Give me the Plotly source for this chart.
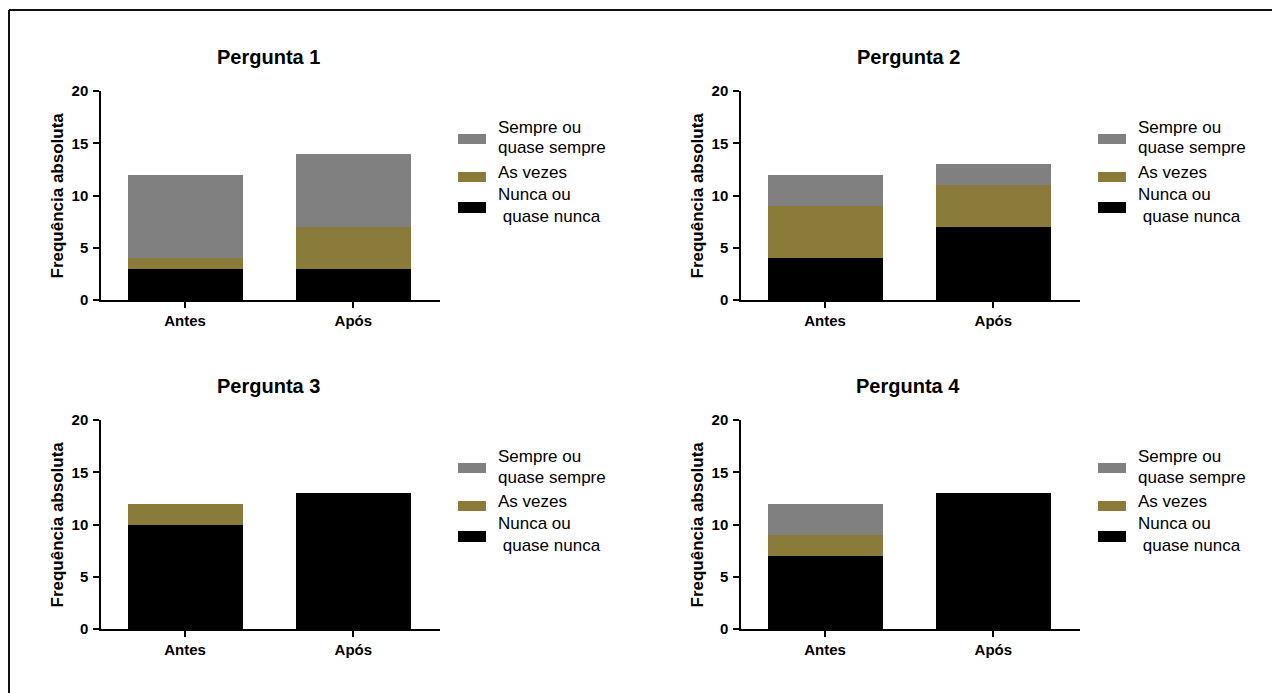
import plotly.graph_objects as go

W, H = 1280, 693
OFF = 8  # page body margin offset of the figure div

categories = ["Antes", "Após"]
titles = ["Pergunta 1", "Pergunta 2", "Pergunta 3", "Pergunta 4"]
series_names = ["Nunca ou quase nunca", "As vezes", "Sempre ou quase sempre"]
series_colors = ["#000000", "#8b7b3b", "#808080"]

# values per question: [Antes, Após]
nunca = [[3, 3], [4, 7], [10, 13], [7, 13]]
as_vezes = [[1, 4], [5, 4], [2, 0], [2, 0]]
sempre = [[8, 7], [3, 2], [0, 0], [3, 0]]

y_ticks = [0, 5, 10, 15, 20]
y_title = "Frequência absoluta"
legend_lines = [["Sempre ou", "quase sempre"], ["As vezes"], ["Nunca ou", "\u00a0quase nunca"]]
legend_colors = ["#808080", "#8b7b3b", "#000000"]

FONT = "Liberation Sans, Arial, sans-serif"


def X(p):
    return (p - OFF) / W


def Y(p):
    return 1 - (p - OFF) / H


# panel geometry in page pixels: (x_left, x_right, y_zero, y_top)
panels = [(101, 440, 300, 91), (741, 1080, 300, 91),
          (101, 440, 629, 420), (741, 1080, 629, 420)]

fig = go.Figure()
layout = dict(template="none", width=W, height=H, margin=dict(l=0, r=0, t=0, b=0, pad=0),
              paper_bgcolor="white", plot_bgcolor="white", showlegend=False,
              barmode="stack", bargap=0.315, font=dict(family=FONT, color="black"))
annotations = []
shapes = []

for i, (xl, xr, y0, y20) in enumerate(panels):
    n = "" if i == 0 else str(i + 1)
    for vals, name, col in zip([nunca[i], as_vezes[i], sempre[i]], series_names, series_colors):
        fig.add_trace(go.Bar(x=categories, y=vals, name=name, marker=dict(color=col, line=dict(width=0)),
                             xaxis="x" + n, yaxis="y" + n))
    ax = dict(showline=True, linecolor="black", linewidth=1.5, ticks="outside", ticklen=6,
              tickwidth=1.5, tickcolor="black", showgrid=False, zeroline=False, automargin=False,
              tickfont=dict(family=FONT, size=15, color="black", weight="bold"))
    layout["xaxis" + n] = dict(ax, domain=[X(xl), X(xr)], range=[-0.5, 1.515],
                               anchor="y" + n, type="category")
    layout["yaxis" + n] = dict(ax, domain=[Y(y0), Y(y20)], range=[0, 20],
                               tickvals=y_ticks, anchor="x" + n, ticklabelstandoff=2)
    # y-axis title
    annotations.append(dict(text=y_title, x=X(xl - 44), y=Y((y0 + y20) / 2), xref="paper", yref="paper",
                            showarrow=False, textangle=-90, xanchor="center", yanchor="middle",
                            font=dict(family=FONT, size=17, weight="bold", color="black")))
    # panel title
    annotations.append(dict(text=titles[i], x=X(xl + 167), y=Y(y0 - 243), xref="paper", yref="paper",
                            showarrow=False, xanchor="center", yanchor="middle",
                            font=dict(family=FONT, size=20, weight="bold", color="black")))
    # legend
    lx = xl + 357
    dy = y0 - 300
    sw_y = [(134, 144), (172, 182), (202, 213)]
    txt_y = [[127, 148], [172], [194, 216]]
    for k, col in enumerate(legend_colors):
        shapes.append(dict(type="rect", xref="paper", yref="paper", x0=X(lx), x1=X(lx + 28),
                           y0=Y(sw_y[k][1] + dy), y1=Y(sw_y[k][0] + dy),
                           fillcolor=col, line=dict(width=0)))
        for line, ty in zip(legend_lines[k], txt_y[k]):
            annotations.append(dict(text=line, x=X(lx + 38), y=Y(ty + dy),
                                    xref="paper", yref="paper", showarrow=False,
                                    xanchor="left", yanchor="middle",
                                    font=dict(family=FONT, size=17, color="black")))

# outer frame (top and left edges)
shapes.append(dict(type="line", xref="paper", yref="paper", x0=1 / W, x1=1, y0=Y(10), y1=Y(10),
                   line=dict(color="#111", width=2)))
shapes.append(dict(type="line", xref="paper", yref="paper", x0=1 / W, x1=1 / W, y0=0, y1=Y(10),
                   line=dict(color="#111", width=2)))

layout["annotations"] = annotations
layout["shapes"] = shapes
fig.update_layout(**layout)
fig.write_html("out.html")
